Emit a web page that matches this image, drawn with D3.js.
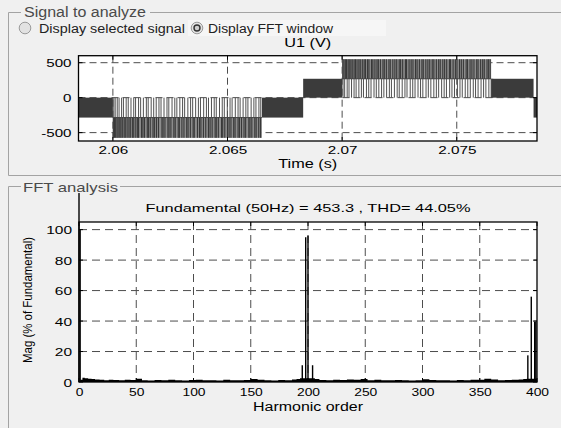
<!DOCTYPE html>
<html><head><meta charset="utf-8">
<script src="https://cdn.jsdelivr.net/npm/d3@7"></script>
<style>
body{margin:0;background:#f0f0f0}
svg{display:block}
text{font-family:"Liberation Sans",Arial,sans-serif}
</style>
</head><body>
<svg id="c" width="561" height="428"></svg>
<script>
// ---------------- DATA ----------------
const sigXTicks = [2.06, 2.065, 2.07, 2.075];
const sigXTickLabels = ["2.06", "2.065", "2.07", "2.075"];
const sigYTicks = [-500, 0, 500];
const sigYTickLabels = ["-500", "0", "500"];
// solid (densely switched) bands between 0 and a level
const bandStart = [2.0585, 2.0665, 2.0683, 2.0765, 2.07835];
const bandEnd   = [2.0600, 2.0683, 2.0700, 2.07835, 2.0785];
const bandLevel = [-285, -285, 270, 270, -285];
// switching regions: inner level and outer level
const swStart = [2.0600, 2.0700];
const swEnd   = [2.0665, 2.0765];
const swInner = [-285, 270];
const swOuter = [-575, 550];
// transitions inner <-> outer level (negative half cycle)
const negOuterT = [2.06002,2.06007,2.06012,2.06018,2.06023,2.06030,2.06035,2.06041,2.06049,2.06054,2.06062,2.06070,2.06076,2.06085,2.06091,2.06100,2.06108,2.06112,2.06125,2.06131,2.06138,2.06150,2.06155,2.06163,2.06175,2.06181,2.06190,2.06199,2.06214,2.06219,2.06227,2.06240,2.06245,2.06253,2.06266,2.06272,2.06285,2.06290,2.06301,2.06310,2.06322,2.06328,2.06338,2.06350,2.06355,2.06369,2.06378,2.06384,2.06395,2.06405,2.06417,2.06424,2.06433,2.06446,2.06451,2.06460,2.06474,2.06479,2.06488,2.06500,2.06507,2.06515,2.06527,2.06533,2.06546,2.06552,2.06561,2.06572,2.06579,2.06593,2.06598,2.06606,2.06619,2.06625,2.06636,2.06644];
// transitions 0 <-> inner level (negative half cycle)
const negInnerT = [2.06004,2.06010,2.06019,2.06027,2.06038,2.06046,2.06058,2.06067,2.06079,2.06091,2.06099,2.06112,2.06121,2.06133,2.06146,2.06154,2.06167,2.06178,2.06189,2.06201,2.06210,2.06223,2.06236,2.06244,2.06258,2.06270,2.06279,2.06292,2.06304,2.06313,2.06327,2.06339,2.06348,2.06361,2.06373,2.06382,2.06396,2.06408,2.06417,2.06430,2.06442,2.06451,2.06465,2.06477,2.06486,2.06499,2.06511,2.06520,2.06534,2.06546,2.06555,2.06568,2.06580,2.06589,2.06603,2.06615,2.06624,2.06637,2.06645];
// positive half cycle
const posOuterT = [2.07003,2.07008,2.07014,2.07019,2.07026,2.07031,2.07038,2.07044,2.07052,2.07058,2.07065,2.07073,2.07079,2.07088,2.07096,2.07102,2.07111,2.07117,2.07128,2.07134,2.07143,2.07152,2.07158,2.07167,2.07178,2.07184,2.07193,2.07204,2.07210,2.07221,2.07230,2.07238,2.07249,2.07255,2.07264,2.07276,2.07281,2.07292,2.07301,2.07309,2.07320,2.07327,2.07337,2.07348,2.07354,2.07365,2.07374,2.07382,2.07393,2.07400,2.07411,2.07421,2.07428,2.07439,2.07447,2.07456,2.07468,2.07473,2.07484,2.07494,2.07501,2.07512,2.07520,2.07529,2.07541,2.07547,2.07558,2.07566,2.07575,2.07587,2.07593,2.07604,2.07613,2.07620,2.07632,2.07639,2.07646];
const posInnerT = [2.07004,2.07011,2.07022,2.07030,2.07041,2.07052,2.07061,2.07073,2.07084,2.07093,2.07106,2.07116,2.07126,2.07139,2.07149,2.07160,2.07172,2.07182,2.07194,2.07206,2.07215,2.07228,2.07240,2.07249,2.07262,2.07274,2.07283,2.07297,2.07308,2.07318,2.07331,2.07342,2.07352,2.07366,2.07376,2.07387,2.07400,2.07411,2.07421,2.07434,2.07445,2.07455,2.07469,2.07479,2.07490,2.07503,2.07514,2.07524,2.07537,2.07548,2.07559,2.07572,2.07582,2.07593,2.07606,2.07617,2.07627,2.07640,2.07650,2.07657];

// FFT panel
const fftXTicks = [0, 50, 100, 150, 200, 250, 300, 350, 400];
const fftYTicks = [0, 20, 40, 60, 80, 100];
const harmOrder = [0, 1, 195, 198, 200, 204, 392, 395, 398, 399];
const harmMag   = [124, 100, 11, 95, 96, 11, 17.5, 56, 39.5, 39.5];
const noiseH = [1,3,5,8,11,14,18,22,26,30,35,40,45,50,55,60,66,72,78,84,90,96,102,108,114,120,126,132,138,144,150,156,162,168,174,180,186,190,193,206,210,216,222,228,234,240,246,252,258,264,270,276,282,288,294,300,306,312,318,324,330,336,342,348,354,360,366,372,378,384,388,391,400];
const noiseV = [1.5,2.8,2.4,2.2,1.9,1.6,1.4,1.2,1.5,1.3,1.1,1.4,1.3,2.2,1.2,1.0,1.3,1.1,1.4,1.2,1.0,1.3,1.5,1.1,1.2,1.0,1.4,1.2,1.1,1.3,2.0,1.4,1.2,1.0,1.3,1.2,1.6,1.9,2.4,2.0,1.3,1.2,1.5,1.3,1.6,1.4,1.9,1.2,1.4,1.2,1.1,1.3,1.2,1.0,1.2,1.8,1.3,1.1,1.2,1.0,1.3,1.2,1.4,1.5,2.1,1.6,1.2,1.3,1.5,1.7,2.0,2.2,2.0];

const sigTitle = "U1 (V)";
const sigXLabel = "Time (s)";
const fftTitle = "Fundamental (50Hz) = 453.3 , THD= 44.05%";
const fftXLabel = "Harmonic order";
const fftYLabel = "Mag (% of Fundamental)";

// ---------------- DRAW ----------------
const svg = d3.select("#c");
const boxCol = "#a3a3a3";

function txt(x, y, s, size, len, anchor, color, rot) {
  const t = svg.append("text")
    .attr("x", x).attr("y", y)
    .attr("font-size", size)
    .attr("text-anchor", anchor || "start")
    .attr("fill", color || "#000")
    .text(s);
  if (len) t.attr("textLength", len).attr("lengthAdjust", "spacingAndGlyphs");
  if (rot) t.attr("transform", `rotate(-90 ${x} ${y})`);
  return t;
}

// Group box 1
svg.append("path").attr("d", "M21,12.5 H8.5 V175.5 H561 M150,12.5 H561")
  .attr("fill", "none").attr("stroke", boxCol);
txt(24, 17, "Signal to analyze", 14, 122, "start", "#4a4a4a");
svg.append("rect").attr("x", 188).attr("y", 20).attr("width", 198).attr("height", 16).attr("fill", "#f6f6f6");
svg.append("circle").attr("cx", 25).attr("cy", 28).attr("r", 5.8).attr("fill", "#e2e2e2").attr("stroke", "#9a9a9a");
txt(39, 32.5, "Display selected signal", 12.5, 146, "start", "#222");
svg.append("circle").attr("cx", 197).attr("cy", 28).attr("r", 5.8).attr("fill", "#e2e2e2").attr("stroke", "#9a9a9a");
svg.append("circle").attr("cx", 197).attr("cy", 28).attr("r", 3).attr("fill", "#cfcfcf").attr("stroke", "#333").attr("stroke-width", 1.4);
txt(208, 32.5, "Display FFT window", 12.5, 125, "start", "#222");

// ---- Signal axes
const sx = d3.scaleLinear().domain([2.0585, 2.0785]).range([78.5, 537]);
const sy = d3.scaleLinear().domain([-620, 600]).range([141, 55.7]);
const sL = sx.range()[0], sR = sx.range()[1], sT = sy.range()[1], sB = sy.range()[0];
svg.append("rect").attr("x", sL).attr("y", sT).attr("width", sR - sL).attr("height", sB - sT).attr("fill", "#fff");
svg.append("clipPath").attr("id", "sclip").append("rect")
  .attr("x", sL).attr("y", sT).attr("width", sR - sL).attr("height", sB - sT);
const sg = svg.append("g").attr("clip-path", "url(#sclip)");

const gridCol = "#4d4d4d";
sg.selectAll(".gx").data(sigXTicks).join("line")
  .attr("x1", d => sx(d)).attr("x2", d => sx(d)).attr("y1", sT).attr("y2", sB)
  .attr("stroke", gridCol).attr("stroke-dasharray", "7,4");
sg.selectAll(".gy").data(sigYTicks).join("line")
  .attr("x1", sL).attr("x2", sR).attr("y1", d => sy(d)).attr("y2", d => sy(d))
  .attr("stroke", gridCol).attr("stroke-dasharray", "7,4");

const swIdx = d3.range(swStart.length);
sg.selectAll(".swf").data(swIdx).join("rect")
  .attr("x", i => sx(swStart[i])).attr("width", i => sx(swEnd[i]) - sx(swStart[i]))
  .attr("y", i => sy(Math.max(swInner[i], swOuter[i])))
  .attr("height", i => Math.abs(sy(swInner[i]) - sy(swOuter[i])))
  .attr("fill", "#8c8c8c");
sg.selectAll(".swl").data(swIdx).join("line")
  .attr("x1", i => sx(swStart[i])).attr("x2", i => sx(swEnd[i]))
  .attr("y1", i => sy(swInner[i])).attr("y2", i => sy(swInner[i]))
  .attr("stroke", "#444").attr("stroke-width", 1);

function pulses(ts, lo, hi, col, w) {
  sg.append("g").selectAll("line").data(ts).join("line")
    .attr("x1", d => sx(d)).attr("x2", d => sx(d))
    .attr("y1", sy(lo)).attr("y2", sy(hi))
    .attr("stroke", col).attr("stroke-width", w);
}
pulses(negOuterT, swInner[0], swOuter[0], "#383838", 1.1);
pulses(negInnerT, 0, swInner[0], "#505050", 1);
pulses(posOuterT, swInner[1], swOuter[1], "#383838", 1.1);
pulses(posInnerT, 0, swInner[1], "#505050", 1);

sg.selectAll(".band").data(d3.range(bandStart.length)).join("rect")
  .attr("x", i => sx(bandStart[i])).attr("width", i => sx(bandEnd[i]) - sx(bandStart[i]))
  .attr("y", i => sy(Math.max(0, bandLevel[i])))
  .attr("height", i => Math.abs(sy(bandLevel[i]) - sy(0)))
  .attr("fill", "#3b3b3b");

function insideTicks(xs, ys, xt, yt, L, R, T, B) {
  const g = svg.append("g").attr("stroke", "#000");
  xt.forEach(v => {
    g.append("line").attr("x1", xs(v)).attr("x2", xs(v)).attr("y1", B).attr("y2", B - 4);
    g.append("line").attr("x1", xs(v)).attr("x2", xs(v)).attr("y1", T).attr("y2", T + 4);
  });
  yt.forEach(v => {
    g.append("line").attr("x1", L).attr("x2", L + 4).attr("y1", ys(v)).attr("y2", ys(v));
    g.append("line").attr("x1", R).attr("x2", R - 4).attr("y1", ys(v)).attr("y2", ys(v));
  });
  svg.append("rect").attr("x", L).attr("y", T).attr("width", R - L).attr("height", B - T)
    .attr("fill", "none").attr("stroke", "#000").attr("stroke-width", 1.3);
}
insideTicks(sx, sy, sigXTicks, sigYTicks, sL, sR, sT, sB);

function labLen(s, dw) {
  let n = 0;
  for (const ch of s) n += (ch === "." ? 0.45 : ch === "-" ? 0.6 : 1);
  return n * dw;
}
const sxAxis = svg.append("g").attr("transform", `translate(0,${sB})`)
  .call(d3.axisBottom(sx).tickValues(sigXTicks).tickFormat((d, i) => sigXTickLabels[i]).tickSize(0).tickPadding(13));
sxAxis.select(".domain").remove();
sxAxis.selectAll("text").attr("font-size", 11.5).attr("font-family", "Liberation Sans, Arial")
  .attr("dy", 0).attr("textLength", d => labLen(sigXTickLabels[sigXTicks.indexOf(d)], 8.6))
  .attr("lengthAdjust", "spacingAndGlyphs");
const syAxis = svg.append("g").attr("transform", `translate(${sL},0)`)
  .call(d3.axisLeft(sy).tickValues(sigYTicks).tickFormat((d, i) => sigYTickLabels[i]).tickSize(0).tickPadding(7));
syAxis.select(".domain").remove();
syAxis.selectAll("text").attr("font-size", 11.5).attr("font-family", "Liberation Sans, Arial")
  .attr("dy", 4.2).attr("textLength", d => labLen(sigYTickLabels[sigYTicks.indexOf(d)], 8.4))
  .attr("lengthAdjust", "spacingAndGlyphs");

txt((sL + sR) / 2, 47, sigTitle, 12, 47, "middle", "#000");
txt((sL + sR) / 2, 168, sigXLabel, 12, 59, "middle", "#000");

// Group box 2
svg.append("path").attr("d", "M21,186.5 H8.5 V428 M120,186.5 H561")
  .attr("fill", "none").attr("stroke", boxCol);
txt(23, 192, "FFT analysis", 13, 95, "start", "#4a4a4a");

// ---- FFT axes
const fx = d3.scaleLinear().domain([0, 400]).range([79, 537]);
const fy = d3.scaleLinear().domain([0, 105]).range([382, 222]);
const fL = 79, fR = 537, fT = 222, fB = 382;
svg.append("rect").attr("x", fL).attr("y", fT).attr("width", fR - fL).attr("height", fB - fT).attr("fill", "#fff");
svg.selectAll(".fgx").data(fftXTicks.slice(1, -1)).join("line")
  .attr("x1", d => fx(d)).attr("x2", d => fx(d)).attr("y1", fT).attr("y2", fB)
  .attr("stroke", gridCol).attr("stroke-dasharray", "8,5");
svg.selectAll(".fgy").data(fftYTicks.slice(1)).join("line")
  .attr("x1", fL).attr("x2", fR).attr("y1", d => fy(d)).attr("y2", d => fy(d))
  .attr("stroke", gridCol).attr("stroke-dasharray", "8,5");

svg.append("path").datum(d3.range(noiseH.length))
  .attr("d", d3.area().curve(d3.curveStepAfter)
    .x(i => fx(noiseH[i])).y0(fB).y1(i => fy(noiseV[i])))
  .attr("fill", "#000");
svg.selectAll(".hb").data(d3.range(harmOrder.length)).join("rect")
  .attr("x", i => fx(harmOrder[i]) - 0.7).attr("width", 1.4)
  .attr("y", i => fy(harmMag[i])).attr("height", i => fB - fy(harmMag[i]))
  .attr("fill", "#000");

insideTicks(fx, fy, fftXTicks, fftYTicks, fL, fR, fT, fB);

const fxAxis = svg.append("g").attr("transform", `translate(0,${fB})`)
  .call(d3.axisBottom(fx).tickValues(fftXTicks).tickFormat(d3.format("d")).tickSize(0).tickPadding(14));
fxAxis.select(".domain").remove();
fxAxis.selectAll("text").attr("font-size", 11.5).attr("font-family", "Liberation Sans, Arial")
  .attr("dy", 0).attr("textLength", d => labLen(String(d), 7.7)).attr("lengthAdjust", "spacingAndGlyphs");
const fyAxis = svg.append("g").attr("transform", `translate(${fL},0)`)
  .call(d3.axisLeft(fy).tickValues(fftYTicks).tickFormat(d3.format("d")).tickSize(0).tickPadding(7));
fyAxis.select(".domain").remove();
fyAxis.selectAll("text").attr("font-size", 11.5).attr("font-family", "Liberation Sans, Arial")
  .attr("dy", 4.2).attr("textLength", d => labLen(String(d), 8.6)).attr("lengthAdjust", "spacingAndGlyphs");

txt((fL + fR) / 2, 212, fftTitle, 11.5, 325, "middle", "#000");
txt((fL + fR) / 2, 411, fftXLabel, 12, 110, "middle", "#000");
txt(31.5, 300, fftYLabel, 13.5, 126, "middle", "#000", true);
</script>
</body></html>
